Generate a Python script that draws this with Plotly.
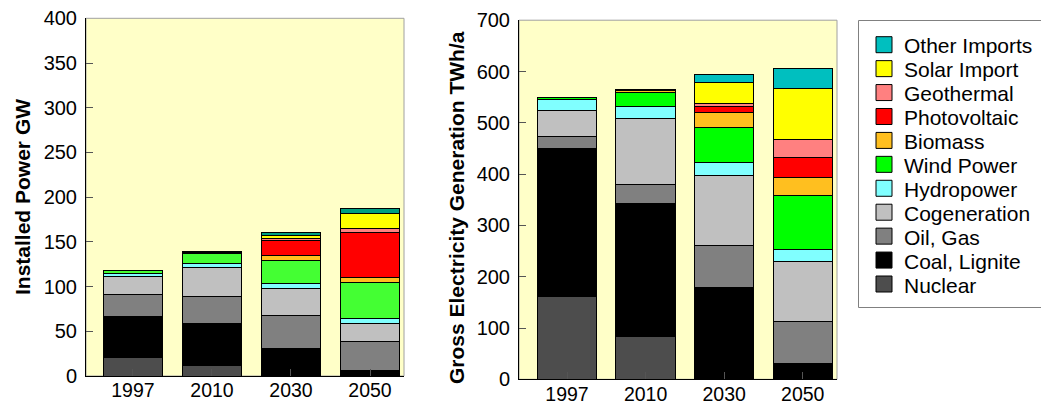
import plotly.graph_objects as go

years = ["1997", "2010", "2030", "2050"]

series_names = ["Nuclear", "Coal, Lignite", "Oil, Gas", "Cogeneration", "Hydropower",
                "Wind Power", "Biomass", "Photovoltaic", "Geothermal", "Solar Import", "Other Imports"]

# Installed power, GW (left chart)
gw_nuclear = [21, 12, 0, 0]
gw_coal = [45.3, 47, 31, 6.3]
gw_oil = [25, 30, 36.5, 32.8]
gw_cogen = [20.1, 32, 30.5, 19.8]
gw_hydro = [3.4, 5, 5.6, 5.6]
gw_wind = [3.3, 11, 25.4, 40.6]
gw_biomass = [0, 1.5, 6.3, 5.2]
gw_pv = [0, 1.2, 16, 49.9]
gw_geo = [0, 0, 2.5, 5.3]
gw_solar = [0, 0, 3.5, 16.4]
gw_other = [0, 0, 3, 5.9]

# Gross electricity generation, TWh/a (right chart)
twh_nuclear = [161, 84, 0, 0]
twh_coal = [288.5, 258, 178.6, 30.4]
twh_oil = [24, 38, 82.4, 81.3]
twh_cogen = [51, 129, 137, 117]
twh_hydro = [20, 22, 25, 24.7]
twh_wind = [5, 28, 68, 105.6]
twh_biomass = [0, 3, 29.5, 35.3]
twh_pv = [0, 2.5, 11, 39]
twh_geo = [0, 0, 6.5, 35.1]
twh_solar = [0, 0, 40, 99.4]
twh_other = [0, 0, 17, 39]

gw_values = [gw_nuclear, gw_coal, gw_oil, gw_cogen, gw_hydro, gw_wind, gw_biomass,
             gw_pv, gw_geo, gw_solar, gw_other]
twh_values = [twh_nuclear, twh_coal, twh_oil, twh_cogen, twh_hydro, twh_wind, twh_biomass,
              twh_pv, twh_geo, twh_solar, twh_other]

colors_right = ["#4d4d4d", "#000000", "#808080", "#c0c0c0", "#80ffff", "#00ff00",
                "#ffbf1f", "#ff0000", "#ff8080", "#ffff00", "#00bfbf"]
colors_left = ["#4d4d4d", "#000000", "#808080", "#c0c0c0", "#80ffff", "#44ff33",
               "#ffbf1f", "#ff0000", "#ff8080", "#ffff00", "#00a080"]

fig = go.Figure()
for name, vals, col in zip(series_names, gw_values, colors_left):
    fig.add_trace(go.Bar(x=years, y=vals, name=name, marker_color=col,
                         marker_line_color="#000000", marker_line_width=1,
                         width=0.745, xaxis="x", yaxis="y", showlegend=False))
for name, vals, col in zip(series_names, twh_values, colors_right):
    fig.add_trace(go.Bar(x=years, y=vals, name=name, marker_color=col,
                         marker_line_color="#000000", marker_line_width=1,
                         width=0.756, xaxis="x2", yaxis="y2", showlegend=False))

# page has an 8px body margin: figure is sized to fit the 1049x406 window
OFF = 8
W, H = 1049 - OFF, 406 - OFF
font = "Liberation Sans, Arial, sans-serif"
bg = "#ffffc8"


def px_x(p):
    return (p - OFF) / W


def px_y(p):
    return 1 - (p - OFF) / H


base_axis = dict(showgrid=False, zeroline=False, showline=True, linecolor="#000000",
                 linewidth=1, ticks="inside", ticklen=7, tickcolor="#555555",
                 tickfont=dict(family=font, size=20, color="#000000"), automargin=False)
xaxis_common = dict(base_axis, ticklabelstandoff=-3,
                    tickfont=dict(family=font, size=19.5, color="#000000"))
yaxis_common = dict(base_axis, ticklabelstandoff=4, ticklabeloverflow="allow")

shapes = [
    dict(type="rect", xref="paper", yref="paper", x0=px_x(86), x1=px_x(404),
         y0=px_y(376), y1=px_y(18.3), line=dict(color="#a0a0a0", width=1), layer="below"),
    dict(type="rect", xref="paper", yref="paper", x0=px_x(519), x1=px_x(837),
         y0=px_y(379.3), y1=px_y(20.2), line=dict(color="#a0a0a0", width=1), layer="below"),
    # legend box
    dict(type="rect", xref="paper", yref="paper", x0=px_x(858.5), x1=px_x(1045.5),
         y0=px_y(307.5), y1=px_y(20.5), line=dict(color="#808080", width=1),
         fillcolor="#ffffff", layer="above"),
]
annotations = [
    dict(text="<b>Installed Power GW</b>", textangle=-90, x=px_x(22), y=px_y(197),
         xanchor="center", yanchor="middle",
         xref="paper", yref="paper", showarrow=False, font=dict(family=font, size=21)),
    dict(text="<b>Gross Electricity Generation TWh/a</b>", textangle=-90, x=px_x(457),
         y=px_y(208), xanchor="center", yanchor="middle", xref="paper", yref="paper",
         showarrow=False, font=dict(family=font, size=21)),
]

# manual legend (top item = last series)
for i, (name, col) in enumerate(zip(series_names[::-1], colors_right[::-1])):
    cy = 44.7 + 23.93 * i
    shapes.append(dict(type="rect", xref="paper", yref="paper",
                       x0=px_x(876), x1=px_x(892), y0=px_y(cy + 8), y1=px_y(cy - 8),
                       fillcolor=col, line=dict(color="#000000", width=1), layer="above"))
    annotations.append(dict(text=name, x=px_x(902), y=px_y(cy + 1), xref="paper", yref="paper",
                            xanchor="left", yanchor="middle", showarrow=False,
                            font=dict(family=font, size=21, color="#000000")))

fig.update_layout(
    width=W, height=H, barmode="stack", showlegend=False,
    margin=dict(l=0, r=0, t=0, b=0),
    paper_bgcolor="#ffffff", plot_bgcolor=bg,
    font=dict(family=font, size=20, color="#000000"),
    xaxis=dict(domain=[px_x(86), px_x(404)], type="category", range=[-0.594, 3.43],
               anchor="y", **xaxis_common),
    yaxis=dict(domain=[px_y(376), px_y(18.3)], range=[0, 400], dtick=50,
               anchor="x", **yaxis_common),
    xaxis2=dict(domain=[px_x(519), px_x(837)], type="category", range=[-0.611, 3.436],
                anchor="y2", **xaxis_common),
    yaxis2=dict(domain=[px_y(379.3), px_y(20.2)], range=[0, 700], dtick=100,
                anchor="x2", **yaxis_common),
    annotations=annotations,
    shapes=shapes,
)

fig.write_html("out.html")
